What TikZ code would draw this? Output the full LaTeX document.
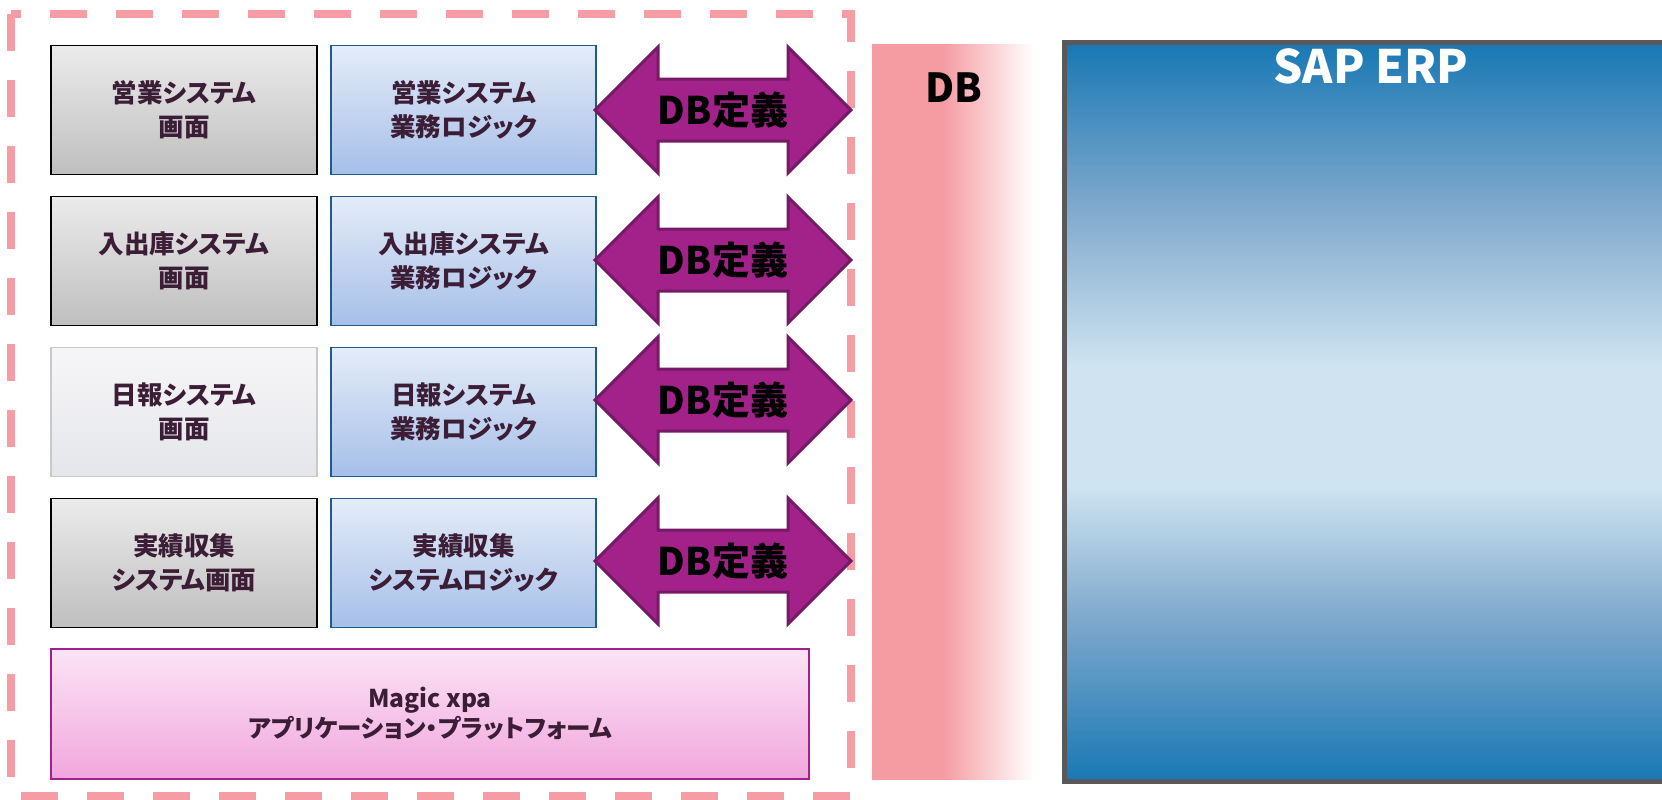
\documentclass[tikz,border=0pt]{standalone}
\usepackage{fontspec}
\setmainfont{Noto Sans CJK JP}[RawFeature=+palt]
\usetikzlibrary{shapes.arrows}
\definecolor{dashpink}{HTML}{F59CA5}
\definecolor{txt}{HTML}{3B1E36}
\definecolor{scrtop}{HTML}{EBEBEB}
\definecolor{scrbot}{HTML}{BFBFBF}
\definecolor{lsctop}{HTML}{F6F6F8}
\definecolor{lscbot}{HTML}{E5E6EA}
\definecolor{lscbd}{HTML}{C9C9CB}
\definecolor{logtop}{HTML}{E4ECF8}
\definecolor{logbot}{HTML}{A6BFE8}
\definecolor{logbd}{HTML}{1F5A8C}
\definecolor{mgtop}{HTML}{FBE4F5}
\definecolor{mgbot}{HTML}{F1A6DC}
\definecolor{mgbd}{HTML}{A0208F}
\definecolor{arrfill}{HTML}{A2228A}
\definecolor{arrbd}{HTML}{761A68}
\definecolor{dbpink}{HTML}{F59CA3}
\definecolor{sapdark}{HTML}{1878B4}
\definecolor{sapmid}{HTML}{7FA8CC}
\definecolor{saplight}{HTML}{CFE4F0}
\definecolor{sapbd}{HTML}{595959}
\pgfdeclarehorizontalshading{dbshade}{100bp}{color(0bp)=(dbpink); color(25bp)=(dbpink); color(47bp)=(dbpink); color(75bp)=(white); color(100bp)=(white)}
\pgfdeclareverticalshading{sapshade}{100bp}{color(0bp)=(sapdark); color(25bp)=(sapdark); color(36bp)=(sapmid); color(45bp)=(saplight); color(53bp)=(saplight); color(64bp)=(sapmid); color(75bp)=(sapdark); color(100bp)=(sapdark)}
\tikzset{
  boxtxt/.style={font=\bfseries\fontsize{25.5}{34}\selectfont, text=txt, align=center, inner sep=0pt},
  scrbox/.style={draw=black, line width=1.5pt, top color=scrtop, bottom color=scrbot, minimum width=266pt, minimum height=129pt, boxtxt},
  lscbox/.style={draw=lscbd, line width=1.5pt, top color=lsctop, bottom color=lscbot, minimum width=266pt, minimum height=129pt, boxtxt},
  logbox/.style={draw=logbd, line width=1.5pt, top color=logtop, bottom color=logbot, minimum width=265pt, minimum height=129pt, boxtxt},
  dbarrow/.style={double arrow, draw=arrbd, fill=arrfill, line width=3pt, minimum height=256pt, minimum width=122pt, inner xsep=0pt, inner ysep=29.5pt, double arrow head extend=32pt, double arrow tip angle=90},
  arrtxt/.style={font=\bfseries\fontsize{38}{42}\selectfont, text=black, inner sep=0pt},
}
\begin{document}
\begin{tikzpicture}[x=1pt,y=-1pt]
\useasboundingbox (0,0) rectangle (1662,800);
\clip (0,0) rectangle (1662,800);
% SAP ERP
\node[draw=sapbd, line width=5pt, shading=sapshade, minimum width=640pt, minimum height=738pt, inner sep=0pt] (sap) at (1384,412) {};
\node[font=\bfseries\fontsize{46}{50}\selectfont, text=white, inner sep=0pt] (saptxt) at (1371,66) {SAP ERP};
% DB column
\node[shading=dbshade, minimum width=162pt, minimum height=734pt, inner sep=0pt] (db) at (953,412) {};
\node[font=\bfseries\fontsize{40}{44}\selectfont, inner sep=0pt] (dbtxt) at (954,88) {DB};
% dashed frame
\draw[dashpink, line width=8pt, dash pattern=on 37pt off 29pt] (11,14) rectangle (851,796);
% rows
\node[scrbox] (s1) at (184,110) {営業システム\\画面};
\node[logbox] (l1) at (463.5,110) {営業システム\\業務ロジック};
\node[scrbox] (s2) at (184,261) {入出庫システム\\画面};
\node[logbox] (l2) at (463.5,261) {入出庫システム\\業務ロジック};
\node[lscbox] (s3) at (184,412) {日報システム\\画面};
\node[logbox] (l3) at (463.5,412) {日報システム\\業務ロジック};
\node[scrbox] (s4) at (184,563) {実績収集\\システム画面};
\node[logbox] (l4) at (463.5,563) {実績収集\\システムロジック};
% platform
\node[draw=mgbd, line width=1.5pt, top color=mgtop, bottom color=mgbot, minimum width=758pt, minimum height=130pt, font=\bfseries\fontsize{24.5}{30}\selectfont, text=txt, align=center, inner sep=0pt] (mg) at (430,714) {Magic xpa\\アプリケーション・プラットフォーム};
% arrows
\foreach \i/\yy in {1/110,2/260,3/400,4/561}{
  \node[dbarrow] (a\i) at (723,\yy) {};
  \node[arrtxt] (t\i) at (a\i.center) {DB定義};
}
\end{tikzpicture}
\end{document}
